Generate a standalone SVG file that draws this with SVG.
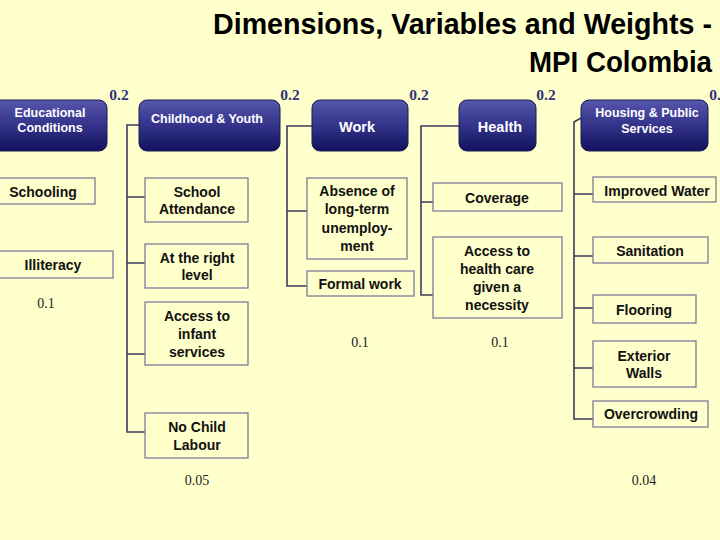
<svg xmlns="http://www.w3.org/2000/svg" width="720" height="540" viewBox="0 0 720 540">
<defs>
<linearGradient id="hg" x1="0" y1="0" x2="0" y2="1">
<stop offset="0" stop-color="#5656ad"/>
<stop offset="0.5" stop-color="#33338a"/>
<stop offset="1" stop-color="#12125e"/>
</linearGradient>
<style>
.hd{fill:url(#hg);stroke:#1a1a55;stroke-width:1}
.ht{font-family:"Liberation Sans",Arial,sans-serif;font-weight:bold;font-size:12.5px;fill:#ffffff;text-anchor:middle}
.ht2{font-size:14.5px}
.bx{fill:#ffffcc;stroke:#7c7c9c;stroke-width:1.3}
.bt{font-family:"Liberation Sans",Arial,sans-serif;font-weight:bold;font-size:14px;fill:#111111;text-anchor:middle}
.w{font-family:"Liberation Serif","Times New Roman",serif;font-weight:bold;font-size:15.5px;fill:#333377;text-anchor:middle}
.sw{font-family:"Liberation Serif","Times New Roman",serif;font-size:14px;fill:#222222;text-anchor:middle}
.cn{fill:none;stroke:#3c3c5c;stroke-width:1.6}
.title{font-family:"Liberation Sans",Arial,sans-serif;font-weight:bold;font-size:29px;fill:#000000}
</style>
</defs>
<rect x="0" y="0" width="720" height="540" fill="#ffffcc"/>
<g id="title">
<text class="title" x="213" y="34" textLength="499" lengthAdjust="spacingAndGlyphs">Dimensions, Variables and Weights -</text>
<text class="title" x="529" y="72" textLength="183" lengthAdjust="spacingAndGlyphs">MPI Colombia</text>
</g>
<g id="connectors">
<path class="cn" d="M139,125 H127 V432 H145 M127,197 H145 M127,263 H145 M127,354 H145"/>
<path class="cn" d="M312,126 H287 V286 H307 M287,211 H307"/>
<path class="cn" d="M459,126 H421 V295 H433 M421,202 H433"/>
<path class="cn" d="M581,118 L574,122 V419 H593 M574,194 H593 M574,256 H593 M574,308 H593 M574,368 H593"/>
</g>
<g id="weights">
<text class="w" x="119" y="100">0.2</text>
<text class="w" x="290" y="100">0.2</text>
<text class="w" x="419" y="100">0.2</text>
<text class="w" x="546" y="100">0.2</text>
<text class="w" x="719" y="100">0.2</text>
<text class="sw" x="46" y="308">0.1</text>
<text class="sw" x="197" y="485">0.05</text>
<text class="sw" x="360" y="347">0.1</text>
<text class="sw" x="500" y="347">0.1</text>
<text class="sw" x="644" y="485">0.04</text>
</g>
<g id="educational">
<rect class="hd" x="-10" y="100" width="117" height="51" rx="8"/>
<text class="ht" x="50" y="117">Educational</text>
<text class="ht" x="50" y="132">Conditions</text>
</g>
<g id="schooling">
<rect class="bx" x="-10" y="178" width="105" height="26"/>
<text class="bt" x="43" y="197">Schooling</text>
</g>
<g id="illiteracy">
<rect class="bx" x="-10" y="251" width="123" height="27"/>
<text class="bt" x="53" y="270">Illiteracy</text>
</g>
<g id="childhood">
<rect class="hd" x="139" y="100" width="141" height="51" rx="8"/>
<text class="ht" x="207" y="123">Childhood &amp; Youth</text>
</g>
<g id="school-attendance">
<rect class="bx" x="145" y="178" width="103" height="44"/>
<text class="bt" x="197" y="197">School</text>
<text class="bt" x="197" y="214">Attendance</text>
</g>
<g id="right-level">
<rect class="bx" x="145" y="244" width="103" height="44"/>
<text class="bt" x="197" y="263">At the right</text>
<text class="bt" x="197" y="280">level</text>
</g>
<g id="infant-services">
<rect class="bx" x="145" y="302" width="103" height="63"/>
<text class="bt" x="197" y="321">Access to</text>
<text class="bt" x="197" y="339">infant</text>
<text class="bt" x="197" y="357">services</text>
</g>
<g id="child-labour">
<rect class="bx" x="145" y="413" width="103" height="45"/>
<text class="bt" x="197" y="432">No Child</text>
<text class="bt" x="197" y="450">Labour</text>
</g>
<g id="work">
<rect class="hd" x="312" y="100" width="96" height="51" rx="8"/>
<text class="ht ht2" x="357" y="132">Work</text>
</g>
<g id="unemployment">
<rect class="bx" x="307" y="178" width="100" height="81"/>
<text class="bt" x="357" y="196">Absence of</text>
<text class="bt" x="357" y="214">long-term</text>
<text class="bt" x="357" y="233">unemploy-</text>
<text class="bt" x="357" y="251">ment</text>
</g>
<g id="formal-work">
<rect class="bx" x="307" y="271" width="107" height="25"/>
<text class="bt" x="360" y="289">Formal work</text>
</g>
<g id="health">
<rect class="hd" x="459" y="100" width="77" height="51" rx="8"/>
<text class="ht ht2" x="500" y="132">Health</text>
</g>
<g id="coverage">
<rect class="bx" x="433" y="183" width="129" height="28"/>
<text class="bt" x="497" y="203">Coverage</text>
</g>
<g id="health-access">
<rect class="bx" x="433" y="237" width="129" height="81"/>
<text class="bt" x="497" y="256">Access to</text>
<text class="bt" x="497" y="274">health care</text>
<text class="bt" x="497" y="292">given a</text>
<text class="bt" x="497" y="310">necessity</text>
</g>
<g id="housing">
<rect class="hd" x="581" y="100" width="127" height="51" rx="8"/>
<text class="ht" x="647" y="117">Housing &amp; Public</text>
<text class="ht" x="647" y="133">Services</text>
</g>
<g id="water">
<rect class="bx" x="593" y="177" width="123" height="25"/>
<text class="bt" x="657" y="196">Improved Water</text>
</g>
<g id="sanitation">
<rect class="bx" x="593" y="237" width="115" height="26"/>
<text class="bt" x="650" y="256">Sanitation</text>
</g>
<g id="flooring">
<rect class="bx" x="593" y="295" width="103" height="28"/>
<text class="bt" x="644" y="315">Flooring</text>
</g>
<g id="walls">
<rect class="bx" x="593" y="341" width="103" height="46"/>
<text class="bt" x="644" y="361">Exterior</text>
<text class="bt" x="644" y="378">Walls</text>
</g>
<g id="overcrowding">
<rect class="bx" x="593" y="401" width="115" height="26"/>
<text class="bt" x="651" y="419">Overcrowding</text>
</g>
</svg>
